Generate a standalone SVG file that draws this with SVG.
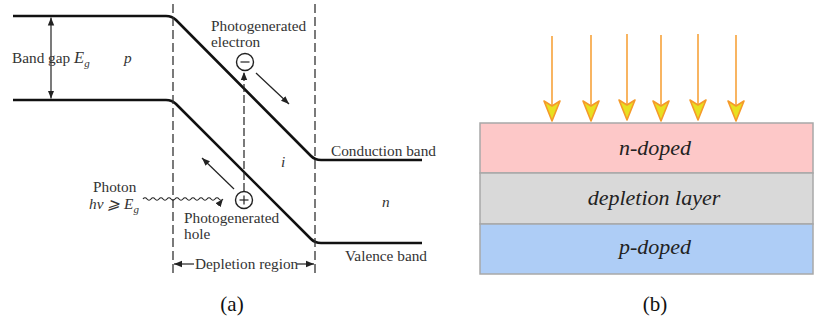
<svg xmlns="http://www.w3.org/2000/svg" width="814" height="325" viewBox="0 0 814 325">
<style>
.t{font-family:"Liberation Serif","DejaVu Serif","Times New Roman",serif;font-size:15.3px;fill:#333}
.it{font-style:italic}
.band{fill:none;stroke:#111;stroke-width:2.6;stroke-linejoin:round}
.dash{stroke:#333;stroke-width:1.3;stroke-dasharray:9,4;fill:none}
.thin{stroke:#222;stroke-width:1.2;fill:none}
.ray{stroke:#f7a23a;stroke-width:1.6;fill:none}
.lay{stroke:#a8a8a8;stroke-width:1.5}
.lt{font-family:"Liberation Serif","DejaVu Serif","Times New Roman",serif;font-style:italic;font-size:22px;fill:#222;text-anchor:middle}
.cap{font-family:"Liberation Serif","DejaVu Serif","Times New Roman",serif;font-size:21px;fill:#111;text-anchor:middle}
</style>
<defs>
<marker id="ah" viewBox="0 0 10 10" refX="10" refY="5" markerWidth="8" markerHeight="8" orient="auto-start-reverse" markerUnits="userSpaceOnUse">
<path d="M0,1 L10,5 L0,9 Z" fill="#222"/>
</marker>
<path id="chev" d="M-8,-14 L0,-9 L8,-14 L0,6 Z" fill="#e8e020" stroke="#f59a2a" stroke-width="1.6" stroke-linejoin="round"/>
</defs>

<!-- Panel (a) -->
<g id="bands">
<path class="band" d="M13,16 H166 Q172,16 176,20 L311,156 Q315,160 321,160 H422"/>
<path class="band" d="M13,100 H166 Q172,100 176,104 L311,239 Q315,243 321,243 H422"/>
</g>
<g id="region-lines">
<line class="dash" x1="173" y1="4" x2="173" y2="273"/>
<line class="dash" x1="315" y1="4" x2="315" y2="273"/>
</g>
<g id="band-gap">
<line class="thin" x1="51" y1="17.5" x2="51" y2="98.5" marker-start="url(#ah)" marker-end="url(#ah)"/>
<text class="t" x="12" y="63">Band gap <tspan class="it" font-size="16.5">E</tspan><tspan class="it" font-size="11" dy="4">g</tspan></text>
</g>
<g id="labels">
<text class="t it" x="124" y="63">p</text>
<text class="t it" x="281" y="167">i</text>
<text class="t it" x="382" y="207">n</text>
<text class="t" x="331" y="156">Conduction band</text>
<text class="t" x="345" y="261">Valence band</text>
</g>
<g id="electron">
<text class="t" x="211" y="31">Photogenerated</text>
<text class="t" x="211" y="47">electron</text>
<circle cx="245" cy="62" r="8.5" fill="#fff" stroke="#222" stroke-width="1.4"/>
<line x1="240.5" y1="62" x2="249.5" y2="62" stroke="#222" stroke-width="1.2"/>
</g>
<g id="hole">
<circle cx="244" cy="200" r="8.5" fill="#fff" stroke="#222" stroke-width="1.4"/>
<line x1="239.5" y1="200" x2="248.5" y2="200" stroke="#222" stroke-width="1.2"/>
<line x1="244" y1="195.5" x2="244" y2="204.5" stroke="#222" stroke-width="1.2"/>
<text class="t" x="184" y="223">Photogenerated</text>
<text class="t" x="184" y="239">hole</text>
</g>
<g id="photon">
<text class="t" x="93" y="192">Photon</text>
<text class="t it" x="89" y="209">hν ⩾ E<tspan font-size="11" dy="4">g</tspan></text>
</g>
<g id="connectors">
<path class="thin" d="M143,199 q2,-2.5 4,0 t4,0 t4,0 t4,0 t4,0 t4,0 t4,0 t4,0 t4,0 t4,0 t4,0 t4,0 t4,0 t4,0 t4,0 t4,0 t4,0 t4,0 t4,0 t4,0" marker-end="url(#ah)"/>
<line class="thin" x1="244" y1="191" x2="244" y2="72" stroke-dasharray="8,3" stroke-width="1.4" marker-end="url(#ah)"/>
<line class="thin" x1="256" y1="73" x2="289" y2="104" marker-end="url(#ah)"/>
<line class="thin" x1="234" y1="189" x2="202" y2="158" marker-end="url(#ah)"/>
<line class="thin" x1="174" y1="264" x2="194" y2="264" marker-start="url(#ah)"/>
<line class="thin" x1="297" y1="264" x2="314" y2="264" marker-end="url(#ah)"/>
</g>
<text class="t" x="195" y="269">Depletion region</text>

<!-- Panel (b) -->
<g id="rays">
<line class="ray" x1="552" y1="36" x2="552" y2="112"/>
<line class="ray" x1="591" y1="35" x2="591" y2="112"/>
<line class="ray" x1="627" y1="34" x2="627" y2="112"/>
<line class="ray" x1="661" y1="35" x2="661" y2="112"/>
<line class="ray" x1="698" y1="34" x2="698" y2="112"/>
<line class="ray" x1="736" y1="35" x2="736" y2="112"/>
<use href="#chev" x="552" y="115"/>
<use href="#chev" x="591" y="115"/>
<use href="#chev" x="627" y="114"/>
<use href="#chev" x="661" y="115"/>
<use href="#chev" x="698" y="114"/>
<use href="#chev" x="736" y="115"/>
</g>
<g id="n-doped">
<rect class="lay" x="480" y="123" width="333" height="50" fill="#fdc8c8"/>
<text class="lt" x="655" y="155">n-doped</text>
</g>
<g id="depletion-layer">
<rect class="lay" x="480" y="173" width="333" height="51" fill="#d9d9d9"/>
<text class="lt" x="654" y="205">depletion layer</text>
</g>
<g id="p-doped">
<rect class="lay" x="480" y="224" width="333" height="50" fill="#aecdf6"/>
<text class="lt" x="655" y="254">p-doped</text>
</g>

<text class="cap" x="232" y="311">(a)</text>
<text class="cap" x="655" y="311">(b)</text>
</svg>
